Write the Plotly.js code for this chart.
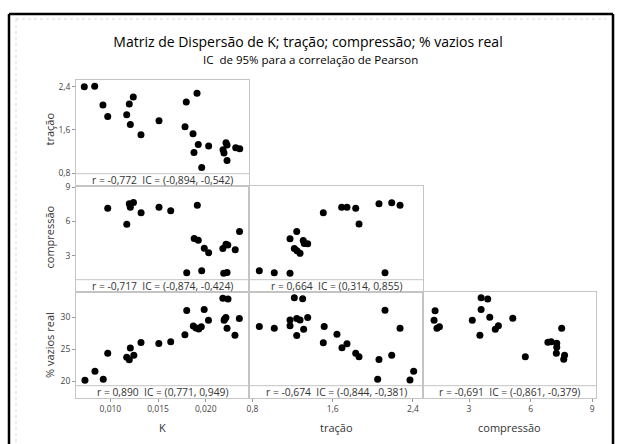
<!DOCTYPE html>
<html><head><meta charset="utf-8">
<script src="https://cdn.plot.ly/plotly-3.0.1.min.js"></script>
<style>html,body{margin:0;padding:0;background:#fff}#chart{width:619px;height:444px}</style>
</head><body><div id="chart"></div>
<script>
// ---- data ----
const p1_K = [0.00726, 0.00835, 0.00922, 0.00972, 0.01171, 0.01198, 0.01240, 0.01209, 0.01321, 0.01510, 0.01796, 0.01909, 0.01783, 0.01867, 0.01922, 0.01877, 0.01958, 0.02031, 0.02182, 0.02192, 0.02213, 0.02224, 0.02224, 0.02315, 0.02357];
const p1_tracao = [2.40, 2.41, 2.06, 1.85, 1.88, 2.08, 2.21, 1.70, 1.51, 1.77, 2.12, 2.28, 1.66, 1.53, 1.33, 1.18, 0.90, 1.30, 1.23, 1.17, 1.36, 1.32, 1.03, 1.27, 1.25];

const p2_K = [0.00972, 0.01172, 0.01198, 0.01209, 0.01242, 0.01322, 0.01510, 0.01633, 0.01912, 0.01879, 0.01922, 0.01985, 0.02031, 0.01801, 0.01958, 0.02180, 0.02213, 0.02232, 0.02310, 0.02355, 0.02189, 0.02224];
const p2_compressao = [7.17, 5.76, 7.55, 7.25, 7.67, 6.76, 7.25, 6.95, 7.42, 4.51, 4.35, 3.65, 3.25, 1.51, 1.68, 3.63, 4.00, 3.94, 3.53, 5.12, 1.46, 1.53];

const p3_K = [0.00733, 0.00838, 0.00925, 0.00972, 0.01171, 0.01198, 0.01209, 0.01246, 0.01321, 0.01508, 0.01633, 0.01782, 0.01801, 0.01870, 0.01898, 0.01927, 0.01954, 0.01984, 0.02029, 0.02180, 0.02234, 0.02193, 0.02212, 0.02224, 0.02307, 0.02353, 0.02199];
const p3_vazios = [20.19, 21.60, 20.34, 24.41, 23.77, 23.38, 25.23, 24.10, 26.09, 25.93, 26.20, 27.29, 31.10, 28.67, 28.36, 28.20, 28.56, 31.25, 29.56, 33.02, 32.90, 29.58, 30.00, 28.31, 27.21, 29.84, 29.77];

const p4_tracao = [0.868, 1.017, 1.174, 1.174, 1.241, 1.217, 1.244, 1.274, 1.306, 1.316, 1.350, 1.506, 1.689, 1.742, 1.829, 1.862, 2.061, 2.188, 2.271, 2.121];
const p4_compressao = [1.68, 1.51, 1.46, 4.48, 5.12, 3.63, 3.44, 3.21, 4.33, 4.07, 4.04, 6.77, 7.25, 7.25, 7.17, 5.78, 7.55, 7.65, 7.42, 1.51];

const p5_tracao = [0.868, 1.017, 1.174, 1.174, 1.217, 1.300, 1.241, 1.274, 1.350, 1.310, 1.241, 1.515, 1.506, 1.642, 1.692, 1.742, 1.829, 1.862, 2.061, 2.188, 2.121, 2.271, 2.048, 2.370, 2.407];
const p5_vazios = [28.59, 28.31, 28.72, 29.61, 33.08, 32.93, 29.84, 29.61, 30.00, 28.17, 27.18, 28.59, 26.06, 27.37, 25.26, 25.90, 24.41, 23.85, 23.43, 24.10, 31.14, 28.31, 20.34, 20.22, 21.58];

const p6_compressao = [1.35, 1.30, 1.44, 1.56, 3.16, 3.59, 3.91, 3.59, 4.01, 3.53, 4.28, 4.43, 5.13, 5.74, 6.84, 7.00, 7.27, 7.27, 7.25, 7.51, 7.65, 7.61];
const p6_vazios = [31.06, 29.58, 28.31, 28.56, 29.58, 33.08, 32.90, 31.25, 30.03, 27.21, 28.17, 28.72, 29.87, 23.85, 26.12, 26.21, 25.98, 25.35, 24.41, 28.31, 24.08, 23.47];

const varNames = ["K", "tração", "compressão", "% vazios real"];
const statLabels = [
  "r = -0,772  IC = (-0,894, -0,542)",
  "r = -0,717  IC = (-0,874, -0,424)",
  "r = 0,890  IC = (0,771, 0,949)",
  "r = 0,664  IC = (0,314, 0,855)",
  "r = -0,674  IC = (-0,844, -0,381)",
  "r = -0,691  IC = (-0,861, -0,379)"
];
const K_ticks = [0.010, 0.015, 0.020];
const tracao_ticks = [0.8, 1.6, 2.4];
const compressao_ticks = [3, 6, 9];
const vazios_ticks = [20, 25, 30];
const titleText = "Matriz de Dispersão de K; tração; compressão; % vazios real";
const subtitleText = "IC  de 95% para a correlação de Pearson";

// ---- layout geometry ----
const W = 619, H = 444;
const colEdges = [76, 249, 423, 596];
const rowEdges = [80, 186, 292, 398];
const stripH = 12.3;
const FONT = "Open Sans, Noto Sans, sans-serif";
const LINE = "#c4c4c4";
const TXT = "#333333";

const xRanges = [[0.00639, 0.024544], [0.7651, 2.4999], [0.7616, 9.180]];
const yRanges = [[0.559, 2.526], [-0.184, 9.114], [17.40, 33.99]];
const xTicks = [K_ticks, tracao_ticks, compressao_ticks];
const yTicks = [tracao_ticks, compressao_ticks, vazios_ticks];
const xFmt = [".3f", ".1f", "d"];
const yFmt = [".1f", "d", "d"];

const panels = [
  {r:0, c:0, x:p1_K, y:p1_tracao},
  {r:1, c:0, x:p2_K, y:p2_compressao},
  {r:2, c:0, x:p3_K, y:p3_vazios},
  {r:1, c:1, x:p4_tracao, y:p4_compressao},
  {r:2, c:1, x:p5_tracao, y:p5_vazios},
  {r:2, c:2, x:p6_compressao, y:p6_vazios}
];

const data = [];
const layout = {
  width: W, height: H,
  margin: {l:0, r:0, t:0, b:0},
  paper_bgcolor: "#ffffff", plot_bgcolor: "#ffffff",
  separators: ",.",
  showlegend: false,
  font: {family: FONT, color: TXT},
  title: {
    text: titleText,
    font: {family: FONT, size: 14, color: "#000", weight: 500},
    x: 308/W, xanchor: "center", xref: "paper",
    y: 1 - 42.5/H, yanchor: "middle", yref: "container"
  },
  shapes: [], annotations: []
};

// subtitle
layout.annotations.push({xref: "paper", yref: "paper", showarrow: false,
  x: 310/W, y: 1 - 59.5/H, xanchor: "center", yanchor: "middle",
  text: subtitleText.replace("  ", " \u00a0"),
  font: {family: FONT, size: 11.5, color: "#000"}});

panels.forEach((p, i) => {
  const n = i + 1;
  const xa = n === 1 ? "x" : "x" + n;
  const ya = n === 1 ? "y" : "y" + n;
  data.push({
    type: "scatter", mode: "markers", x: p.x, y: p.y,
    xaxis: xa, yaxis: ya,
    marker: {color: "#000", size: 7},
    hoverinfo: "x+y"
  });
  const showX = p.r === 2, showY = p.c === 0;
  layout["xaxis" + (n === 1 ? "" : n)] = {
    domain: [colEdges[p.c] / W, colEdges[p.c + 1] / W],
    range: xRanges[p.c], anchor: ya,
    showgrid: false, zeroline: false,
    showline: true, mirror: true, linecolor: LINE, linewidth: 1,
    tickmode: "array", tickvals: xTicks[p.c], tickformat: xFmt[p.c],
    ticks: showX ? "outside" : "", ticklen: 3, tickcolor: "#999",
    showticklabels: showX,
    tickfont: {family: FONT, size: 8.5, color: "#444"}
  };
  layout["yaxis" + (n === 1 ? "" : n)] = {
    domain: [1 - rowEdges[p.r + 1] / H, 1 - rowEdges[p.r] / H],
    range: yRanges[p.r], anchor: xa,
    showgrid: false, zeroline: false,
    showline: true, mirror: true, linecolor: LINE, linewidth: 1,
    tickmode: "array", tickvals: yTicks[p.r], tickformat: yFmt[p.r],
    ticks: showY ? "outside" : "", ticklen: 3, tickcolor: "#999",
    showticklabels: showY,
    tickfont: {family: FONT, size: 8.5, color: "#444"}
  };
  // statistics strip
  const sy = 1 - (rowEdges[p.r + 1] - stripH) / H;
  layout.shapes.push({type: "line", xref: "paper", yref: "paper",
    x0: colEdges[p.c] / W, x1: colEdges[p.c + 1] / W, y0: sy, y1: sy,
    line: {color: LINE, width: 1}});
  layout.annotations.push({
    xref: "paper", yref: "paper", showarrow: false,
    x: (colEdges[p.c] + colEdges[p.c + 1]) / 2 / W,
    y: 1 - (rowEdges[p.r + 1] - stripH / 2) / H,
    xanchor: "center", yanchor: "middle",
    text: statLabels[i].replace("  ", " \u00a0"),
    font: {family: FONT, size: 10.3, color: TXT}
  });
});

// axis titles
const xTitleY = 427, yTitleX = 49;
const yTitleCenters = [129.5, 237.5, 345];
[0, 1, 2].forEach(c => {
  layout.annotations.push({xref: "paper", yref: "paper", showarrow: false,
    x: (colEdges[c] + colEdges[c + 1]) / 2 / W, y: 1 - xTitleY / H,
    xanchor: "center", yanchor: "middle", text: varNames[c],
    font: {family: FONT, size: 11, color: TXT}});
});
[0, 1, 2].forEach(r => {
  layout.annotations.push({xref: "paper", yref: "paper", showarrow: false,
    x: yTitleX / W, y: 1 - yTitleCenters[r] / H, textangle: -90,
    xanchor: "center", yanchor: "middle", text: varNames[r + 1],
    font: {family: FONT, size: 11, color: TXT}});
});

// outer frame and faint inner border
layout.shapes.push({type: "line", xref: "paper", yref: "paper", x0: 9/W, x1: 9/W, y0: 1 - 14/H, y1: 0, line: {color: "#000", width: 2.5}});
layout.shapes.push({type: "line", xref: "paper", yref: "paper", x0: 9/W, x1: 613/W, y0: 1 - 14/H, y1: 1 - 14/H, line: {color: "#000", width: 2.5}});
layout.shapes.push({type: "line", xref: "paper", yref: "paper", x0: 613/W, x1: 613/W, y0: 1 - 14/H, y1: 0, line: {color: "#000", width: 2.5}});
layout.shapes.push({type: "line", xref: "paper", yref: "paper", x0: 16/W, x1: 606/W, y0: 1 - 19/H, y1: 1 - 19/H, line: {color: "#d9d9d9", width: 1, dash: "dot"}});
layout.shapes.push({type: "line", xref: "paper", yref: "paper", x0: 16/W, x1: 16/W, y0: 1 - 19/H, y1: 0, line: {color: "#d9d9d9", width: 1, dash: "dot"}});

Plotly.newPlot("chart", data, layout, {staticPlot: true, displayModeBar: false});
</script></body></html>
